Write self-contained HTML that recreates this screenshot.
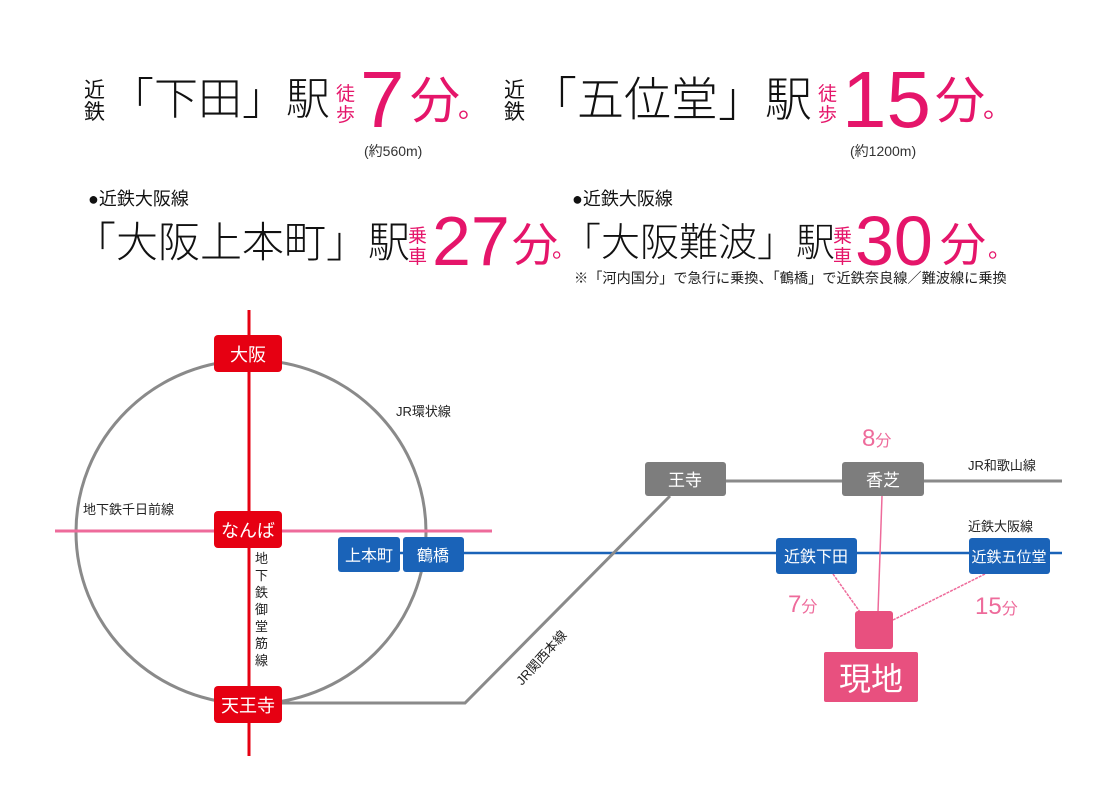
<!DOCTYPE html>
<html><head><meta charset="utf-8">
<style>
html,body{margin:0;padding:0;background:#fff;}
body{width:1113px;height:800px;position:relative;overflow:hidden;font-family:"Liberation Sans","Noto Sans CJK JP",sans-serif;color:#111;}
.a{position:absolute;white-space:nowrap;line-height:1;}
.pk{color:#e5156a;}
</style></head><body>

<!-- header row 1 -->
<div class="a" style="left:84px;top:80px;font-size:21px;line-height:22px;width:24px;">近<br>鉄</div>
<div class="a" style="left:110px;top:78px;font-size:44px;font-weight:300;">「下田」駅</div>
<div class="a pk" style="left:336px;top:84px;font-size:19px;line-height:21px;">徒<br>歩</div>
<div class="a pk" style="left:360px;top:60px;font-size:80px;">7</div>
<div class="a pk" style="left:410px;top:76px;font-size:50px;">分</div>
<div class="a pk" style="left:458px;top:94px;font-size:28px;">。</div>
<div class="a" style="left:364px;top:144px;font-size:14px;color:#333;">(約560m)</div>

<div class="a" style="left:504px;top:80px;font-size:21px;line-height:22px;">近<br>鉄</div>
<div class="a" style="left:530px;top:76px;font-size:47px;font-weight:300;">「五位堂」駅</div>
<div class="a pk" style="left:818px;top:84px;font-size:19px;line-height:21px;">徒<br>歩</div>
<div class="a pk" style="left:842px;top:60px;font-size:80px;">15</div>
<div class="a pk" style="left:935px;top:76px;font-size:50px;">分</div>
<div class="a pk" style="left:983px;top:94px;font-size:28px;">。</div>
<div class="a" style="left:850px;top:144px;font-size:14px;color:#333;">(約1200m)</div>

<!-- header row 2 -->
<div class="a" style="left:88px;top:190px;font-size:18px;">●近鉄大阪線</div>
<div class="a" style="left:74px;top:222px;font-size:42px;font-weight:300;">「大阪上本町」駅</div>
<div class="a pk" style="left:408px;top:226px;font-size:19px;line-height:21px;">乗<br>車</div>
<div class="a pk" style="left:432px;top:206px;font-size:70px;">27</div>
<div class="a pk" style="left:512px;top:222px;font-size:46px;">分</div>
<div class="a pk" style="left:552px;top:238px;font-size:24px;">。</div>

<div class="a" style="left:572px;top:190px;font-size:18px;">●近鉄大阪線</div>
<div class="a" style="left:562px;top:224px;font-size:39px;font-weight:300;">「大阪難波」駅</div>
<div class="a pk" style="left:833px;top:226px;font-size:19px;line-height:21px;">乗<br>車</div>
<div class="a pk" style="left:855px;top:206px;font-size:70px;">30</div>
<div class="a pk" style="left:940px;top:222px;font-size:46px;">分</div>
<div class="a pk" style="left:988px;top:238px;font-size:24px;">。</div>
<div class="a" style="left:574px;top:272px;font-size:14.2px;color:#222;">※「河内国分」で急行に乗換、「鶴橋」で近鉄奈良線／難波線に乗換</div>

<!-- diagram -->
<svg class="a" style="left:0;top:0" width="1113" height="800">
 <ellipse cx="251" cy="532" rx="175" ry="172" fill="none" stroke="#8a8a8a" stroke-width="3"/>
 <line x1="249" y1="310" x2="249" y2="756" stroke="#e60012" stroke-width="3"/>
 <line x1="55" y1="531" x2="492" y2="531" stroke="#ee6b9b" stroke-width="3"/>
 <line x1="400" y1="553" x2="1062" y2="553" stroke="#1a63b8" stroke-width="2.5"/>
 <polyline points="282,703 465,703 670,496" fill="none" stroke="#8a8a8a" stroke-width="3"/>
 <line x1="726" y1="481" x2="1062" y2="481" stroke="#8a8a8a" stroke-width="3"/>
 <line x1="882" y1="496" x2="878" y2="612" stroke="#ee6b9b" stroke-width="1.5"/>
 <line x1="833" y1="574" x2="860" y2="612" stroke="#ee6b9b" stroke-width="1.5" stroke-dasharray="3,1"/>
 <line x1="985" y1="574" x2="893" y2="620" stroke="#ee6b9b" stroke-width="1.5" stroke-dasharray="3,1"/>
 <g font-family="Liberation Sans,Noto Sans CJK JP,sans-serif">
 <rect x="214" y="335" width="68" height="37" rx="4" fill="#e60012"/>
 <text x="248" y="361" font-size="18" fill="#fff" text-anchor="middle">大阪</text>
 <rect x="214" y="511" width="68" height="37" rx="4" fill="#e60012"/>
 <text x="248" y="537" font-size="18" fill="#fff" text-anchor="middle">なんば</text>
 <rect x="214" y="686" width="68" height="37" rx="4" fill="#e60012"/>
 <text x="248" y="712" font-size="18" fill="#fff" text-anchor="middle">天王寺</text>
 <rect x="338" y="537" width="62" height="35" rx="3" fill="#1a63b8"/>
 <text x="369" y="561" font-size="16" fill="#fff" text-anchor="middle">上本町</text>
 <rect x="403" y="537" width="61" height="35" rx="3" fill="#1a63b8"/>
 <text x="433" y="561" font-size="16" fill="#fff" text-anchor="middle">鶴橋</text>
 <rect x="645" y="462" width="81" height="34" rx="3" fill="#7d7d7d"/>
 <text x="685" y="486" font-size="17" fill="#fff" text-anchor="middle">王寺</text>
 <rect x="842" y="462" width="82" height="34" rx="3" fill="#7d7d7d"/>
 <text x="883" y="486" font-size="17" fill="#fff" text-anchor="middle">香芝</text>
 <rect x="776" y="538" width="81" height="36" rx="3" fill="#1a63b8"/>
 <text x="816" y="562" font-size="16" fill="#fff" text-anchor="middle">近鉄下田</text>
 <rect x="969" y="538" width="81" height="36" rx="3" fill="#1a63b8"/>
 <text x="1009" y="562" font-size="15" fill="#fff" text-anchor="middle">近鉄五位堂</text>
 <rect x="855" y="611" width="38" height="38" rx="3" fill="#e8507f"/>
 <rect x="824" y="652" width="94" height="50" rx="2" fill="#e8507f"/>
 <text x="871" y="690" font-size="32" fill="#fff" text-anchor="middle">現地</text>
 <text x="396" y="416" font-size="13" fill="#222">JR環状線</text>
 <text x="83" y="514" font-size="13" fill="#222">地下鉄千日前線</text>
 <text x="968" y="470" font-size="13" fill="#222">JR和歌山線</text>
 <text x="968" y="531" font-size="13" fill="#222">近鉄大阪線</text>
 <text font-size="13" fill="#222" transform="translate(522,686) rotate(-48)">JR関西本線</text>
 <text x="862" y="446" font-size="24" fill="#ee6b9b">8<tspan font-size="16">分</tspan></text>
 <text x="788" y="612" font-size="24" fill="#ee6b9b">7<tspan font-size="16">分</tspan></text>
 <text x="975" y="614" font-size="24" fill="#ee6b9b">15<tspan font-size="16">分</tspan></text>
 </g>
 <text font-family="Liberation Sans,Noto Sans CJK JP,sans-serif" font-size="13" fill="#222">
  <tspan x="255" y="563">地</tspan><tspan x="255" y="580">下</tspan><tspan x="255" y="597">鉄</tspan><tspan x="255" y="614">御</tspan><tspan x="255" y="631">堂</tspan><tspan x="255" y="648">筋</tspan><tspan x="255" y="665">線</tspan>
 </text>
</svg>
</body></html>
